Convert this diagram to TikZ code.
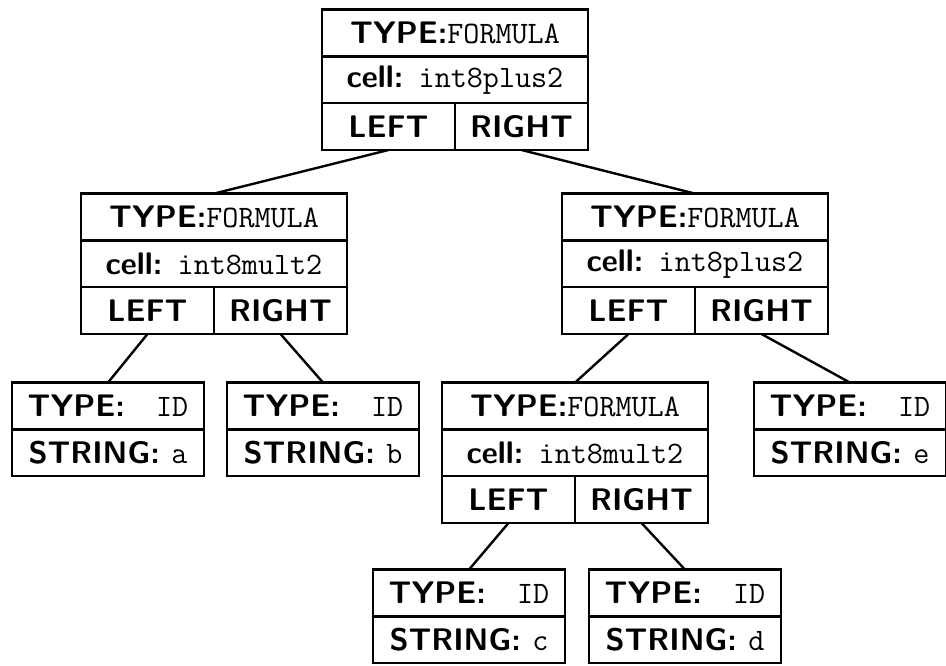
\documentclass[tikz,border=0pt]{standalone}
\usepackage{tikz}
\usetikzlibrary{positioning}
\newcommand{\tval}[1]{{\mdseries\ttfamily #1}}
\tikzset{
	row/.style={draw,line width=1.2pt,minimum width=133pt,minimum height=23.4pt,inner sep=0pt,outer sep=0pt,font=\fontsize{15.6}{18}\selectfont\sffamily\bfseries},
	halfrow/.style={row,minimum width=66.5pt},
	leafrow/.style={row,minimum width=96pt},
	link/.style={line width=1.2pt}
}

\begin{document}
\begin{tikzpicture}[x=0.5pt,y=-0.5pt]
	\useasboundingbox (0,0) rectangle (946,665);

	% root
	\node[row] (top-type) at (455,33) {TYPE:\tval{FORMULA}};
	\node[row,below=0pt of top-type] (top-cell) {cell: \tval{int8plus2}};
	\node[halfrow,below=0pt of top-cell.south west,anchor=north west] (top-left) {LEFT};
	\node[halfrow,right=0pt of top-left] (top-right) {RIGHT};

	% left subtree
	\node[row] (fl-type) at (214,217) {TYPE:\tval{FORMULA}};
	\node[row,below=0pt of fl-type] (fl-cell) {cell: \tval{int8mult2}};
	\node[halfrow,below=0pt of fl-cell.south west,anchor=north west] (fl-left) {LEFT};
	\node[halfrow,right=0pt of fl-left] (fl-right) {RIGHT};

	% right subtree
	\node[row] (fr-type) at (695,217) {TYPE:\tval{FORMULA}};
	\node[row,below=0pt of fr-type] (fr-cell) {cell: \tval{int8plus2}};
	\node[halfrow,below=0pt of fr-cell.south west,anchor=north west] (fr-left) {LEFT};
	\node[halfrow,right=0pt of fr-left] (fr-right) {RIGHT};

	\node[row] (fm-type) at (575,406) {TYPE:\tval{FORMULA}};
	\node[row,below=0pt of fm-type] (fm-cell) {cell: \tval{int8mult2}};
	\node[halfrow,below=0pt of fm-cell.south west,anchor=north west] (fm-left) {LEFT};
	\node[halfrow,right=0pt of fm-left] (fm-right) {RIGHT};

	% leaves
	\node[leafrow] (la-type) at (108,406) {TYPE:\quad\tval{ID}};
	\node[leafrow,below=0pt of la-type] (la-str) {STRING: \tval{a}};
	\node[leafrow] (lb-type) at (323,406) {TYPE:\quad\tval{ID}};
	\node[leafrow,below=0pt of lb-type] (lb-str) {STRING: \tval{b}};
	\node[leafrow] (le-type) at (850,406) {TYPE:\quad\tval{ID}};
	\node[leafrow,below=0pt of le-type] (le-str) {STRING: \tval{e}};
	\node[leafrow] (lc-type) at (469,593) {TYPE:\quad\tval{ID}};
	\node[leafrow,below=0pt of lc-type] (lc-str) {STRING: \tval{c}};
	\node[leafrow] (ld-type) at (685,593) {TYPE:\quad\tval{ID}};
	\node[leafrow,below=0pt of ld-type] (ld-str) {STRING: \tval{d}};

	% links
	\draw[link] (top-left.south) -- (fl-type.north);
	\draw[link] (top-right.south) -- (fr-type.north);
	\draw[link] (fl-left.south) -- (la-type.north);
	\draw[link] (fl-right.south) -- (lb-type.north);
	\draw[link] (fr-left.south) -- (fm-type.north);
	\draw[link] (fr-right.south) -- (le-type.north);
	\draw[link] (fm-left.south) -- (lc-type.north);
	\draw[link] (fm-right.south) -- (ld-type.north);
\end{tikzpicture}
\end{document}
